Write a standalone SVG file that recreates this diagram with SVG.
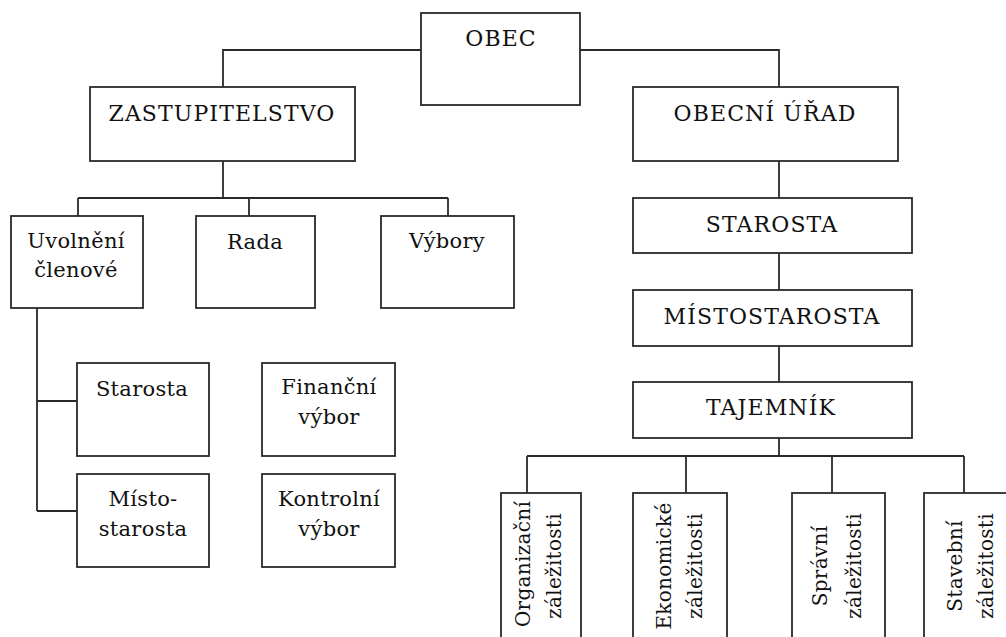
<svg xmlns="http://www.w3.org/2000/svg" width="1006" height="637" viewBox="0 0 1006 637">
<style>
.box{fill:#fff;stroke:#2a2a2a;stroke-width:1.8}
.ln{fill:none;stroke:#2a2a2a;stroke-width:1.8}
.t{font-family:"DejaVu Serif",serif;font-size:22px;fill:#111;text-anchor:middle;letter-spacing:1.1px}
.s{font-family:"DejaVu Serif",serif;font-size:21px;fill:#111;text-anchor:middle;letter-spacing:0.3px}
.v{font-family:"DejaVu Serif",serif;font-size:20px;fill:#111;text-anchor:middle;letter-spacing:0.3px}
</style>
<rect width="1006" height="637" fill="#fff"/>
<g id="connectors">
<path class="ln" d="M421 50 H223 V87"/>
<path class="ln" d="M580 50 H779 V87"/>
<path class="ln" d="M223 161 V198 M78 198 H448 M78 198 V216 M249 198 V216 M448 198 V216"/>
<path class="ln" d="M37 308 V511 M37 401 H77 M37 511 H77"/>
<path class="ln" d="M779 161 V198 M779 253 V290 M779 346 V382"/>
<path class="ln" d="M779 438 V456 M527 456 H964 M527 456 V493 M686 456 V493 M832 456 V493 M964 456 V493"/>
</g>
<g id="obec"><rect class="box" x="421" y="13" width="159" height="92"/><text class="t" x="501" y="46">OBEC</text></g>
<g id="zastupitelstvo"><rect class="box" x="90" y="87" width="265" height="74"/><text class="t" x="222" y="121">ZASTUPITELSTVO</text></g>
<g id="obecni-urad"><rect class="box" x="633" y="87" width="265" height="74"/><text class="t" x="765" y="121">OBECNÍ ÚŘAD</text></g>
<g id="uvolneni"><rect class="box" x="11" y="216" width="132" height="92"/><text class="s" x="76" y="248">Uvolnění</text><text class="s" x="76" y="277">členové</text></g>
<g id="rada"><rect class="box" x="196" y="216" width="119" height="92"/><text class="s" x="255" y="249">Rada</text></g>
<g id="vybory"><rect class="box" x="381" y="216" width="133" height="92"/><text class="s" x="447" y="248">Výbory</text></g>
<g id="starosta-l"><rect class="box" x="77" y="363" width="132" height="93"/><text class="s" x="142" y="396">Starosta</text></g>
<g id="financni"><rect class="box" x="262" y="363" width="133" height="93"/><text class="s" x="329" y="394">Finanční</text><text class="s" x="329" y="424">výbor</text></g>
<g id="mistostarosta-l"><rect class="box" x="77" y="474" width="132" height="93"/><text class="s" x="143" y="506">Místo-</text><text class="s" x="143" y="536">starosta</text></g>
<g id="kontrolni"><rect class="box" x="262" y="474" width="133" height="93"/><text class="s" x="329" y="506">Kontrolní</text><text class="s" x="329" y="536">výbor</text></g>
<g id="starosta-r"><rect class="box" x="633" y="198" width="279" height="55"/><text class="t" x="772" y="232">STAROSTA</text></g>
<g id="mistostarosta-r"><rect class="box" x="633" y="290" width="279" height="56"/><text class="t" x="772" y="324">MÍSTOSTAROSTA</text></g>
<g id="tajemnik"><rect class="box" x="633" y="382" width="279" height="56"/><text class="t" x="771" y="415">TAJEMNÍK</text></g>
<g id="organizacni"><rect class="box" x="501" y="493" width="80" height="160"/>
<text class="v" transform="translate(530 564) rotate(-90)">Organizační</text>
<text class="v" transform="translate(561 566) rotate(-90)">záležitosti</text></g>
<g id="ekonomicke"><rect class="box" x="633" y="493" width="94" height="160"/>
<text class="v" transform="translate(671 566) rotate(-90)">Ekonomické</text>
<text class="v" transform="translate(702 566) rotate(-90)">záležitosti</text></g>
<g id="spravni"><rect class="box" x="792" y="493" width="93" height="160"/>
<text class="v" transform="translate(827 566) rotate(-90)">Správní</text>
<text class="v" transform="translate(861 566) rotate(-90)">záležitosti</text></g>
<g id="stavebni"><rect class="box" x="924" y="493" width="100" height="160"/>
<text class="v" transform="translate(962 566) rotate(-90)">Stavební</text>
<text class="v" transform="translate(993 566) rotate(-90)">záležitosti</text></g>
</svg>
